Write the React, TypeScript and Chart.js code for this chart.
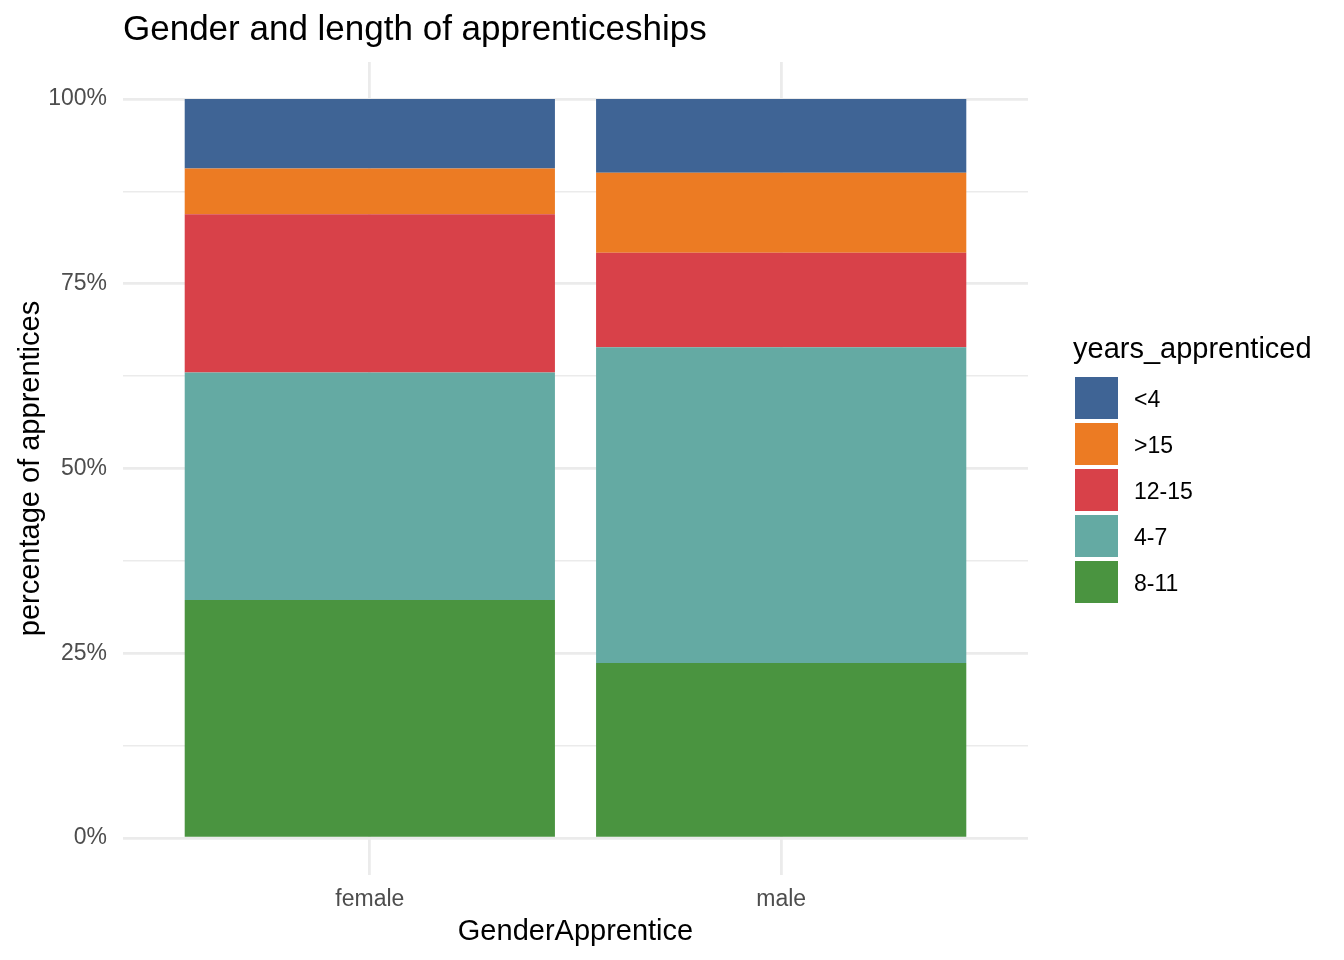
import React, { useEffect, useRef } from 'react';
import { Chart, registerables } from 'chart.js';

Chart.register(...registerables);

// categories on the x axis
const genders = ['female', 'male'];

// stacked from the bottom up
const groups = ['8-11', '4-7', '12-15', '>15', '<4'];
const groupColors = ['#4A9440', '#64AAA3', '#D84149', '#EC7B23', '#3F6495'];

// percent of apprentices per group, [female, male]
const share811 = [32.2, 23.7];
const share47 = [30.8, 42.7];
const share1215 = [21.4, 12.8];
const share15plus = [6.2, 10.8];
const shareUnder4 = [9.4, 10.0];

const yTicks = [0, 12.5, 25, 37.5, 50, 62.5, 75, 87.5, 100];
const yLabelTicks = [0, 25, 50, 75, 100];

const FONT = '"Liberation Sans", Arial, Helvetica, sans-serif';
const GRID = '#EBEBEB';

const titlePlugin = {
    id: 'plotTitle',
    afterDraw(chart: any) {
        const { ctx, chartArea } = chart;
        ctx.save();
        ctx.font = `35px ${FONT}`;
        ctx.fillStyle = '#000000';
        ctx.textAlign = 'left';
        ctx.textBaseline = 'alphabetic';
        ctx.fillText('Gender and length of apprenticeships', chartArea.left, 40);
        ctx.restore();
    },
};

const legendPlugin = {
    id: 'sideLegend',
    afterDraw(chart: any) {
        const { ctx, chartArea } = chart;
        const mid = chart.height / 2;
        const x0 = chartArea.right + 47;
        ctx.save();
        ctx.font = `29px ${FONT}`;
        ctx.fillStyle = '#000000';
        ctx.textAlign = 'left';
        ctx.textBaseline = 'alphabetic';
        ctx.fillText('years_apprenticed', x0 - 2, mid - 122);

        const items = [...chart.data.datasets].reverse();
        let top = mid - 103;
        ctx.font = `23px ${FONT}`;
        ctx.textBaseline = 'middle';
        items.forEach((ds: any) => {
            ctx.fillStyle = ds.backgroundColor;
            ctx.fillRect(x0, top, 43, 42);
            ctx.fillStyle = '#000000';
            ctx.fillText(ds.label, x0 + 59, top + 24);
            top += 46;
        });
        ctx.restore();
    },
};

const App: React.FC = () => {
    const canvasRef = useRef<HTMLCanvasElement | null>(null);

    useEffect(() => {
        if (!canvasRef.current) return;
        const series = [share811, share47, share1215, share15plus, shareUnder4];

        const chart = new Chart(canvasRef.current, {
            type: 'bar',
            data: {
                datasets: groups.map((g, i) => ({
                    label: g,
                    data: series[i].map((v, j) => ({ x: j + 1, y: v })),
                    backgroundColor: groupColors[i],
                    borderWidth: 0,
                    categoryPercentage: 0.9,
                    barPercentage: 1.0,
                })),
            },
            options: {
                animation: false,
                responsive: true,
                maintainAspectRatio: false,
                layout: { padding: { top: 62, right: 316, left: 0, bottom: 0 } },
                font: { family: FONT },
                plugins: {
                    legend: { display: false },
                    title: { display: false },
                    tooltip: { enabled: false },
                },
                scales: {
                    x: {
                        type: 'linear',
                        min: 0.4,
                        max: 2.6,
                        offset: false,
                        stacked: true,
                        afterBuildTicks: (scale: any) => {
                            scale.ticks = genders.map((_, i) => ({ value: i + 1 }));
                        },
                        afterFit: (scale: any) => {
                            scale.height = 85;
                        },
                        ticks: {
                            autoSkip: false,
                            padding: 11,
                            color: '#4D4D4D',
                            font: { family: FONT, size: 23 },
                            callback: (v: any) => genders[Math.round(Number(v)) - 1] ?? '',
                        },
                        grid: { color: GRID, lineWidth: 2.8, drawTicks: false, offset: false },
                        border: { display: false },
                        title: {
                            display: true,
                            text: 'GenderApprentice',
                            color: '#000000',
                            font: { family: FONT, size: 29, lineHeight: 1 },
                            padding: { top: 0, bottom: 14 },
                        },
                    },
                    y: {
                        type: 'linear',
                        min: -5,
                        max: 105,
                        stacked: true,
                        afterBuildTicks: (scale: any) => {
                            scale.ticks = yTicks.map(v => ({ value: v }));
                        },
                        afterFit: (scale: any) => {
                            scale.width = 123;
                        },
                        ticks: {
                            autoSkip: false,
                            padding: 16,
                            color: '#4D4D4D',
                            font: { family: FONT, size: 23 },
                            callback: (v: any) => (yLabelTicks.includes(Number(v)) ? `${v}%` : ''),
                        },
                        grid: {
                            color: GRID,
                            drawTicks: false,
                            lineWidth: (c: any) =>
                                c.tick && yLabelTicks.includes(c.tick.value) ? 2.8 : 1.4,
                        },
                        border: { display: false },
                        title: {
                            display: true,
                            text: 'percentage of apprentices',
                            color: '#000000',
                            font: { family: FONT, size: 29, lineHeight: 1 },
                            padding: { top: 16, bottom: 0 },
                        },
                    },
                },
            },
            plugins: [titlePlugin, legendPlugin],
        });

        return () => {
            chart.destroy();
        };
    }, []);

    return (
        <div style={{ position: 'absolute', left: 0, top: 0, width: 1344, height: 960, background: '#ffffff' }}>
            <canvas ref={canvasRef} />
        </div>
    );
};

export default App;
